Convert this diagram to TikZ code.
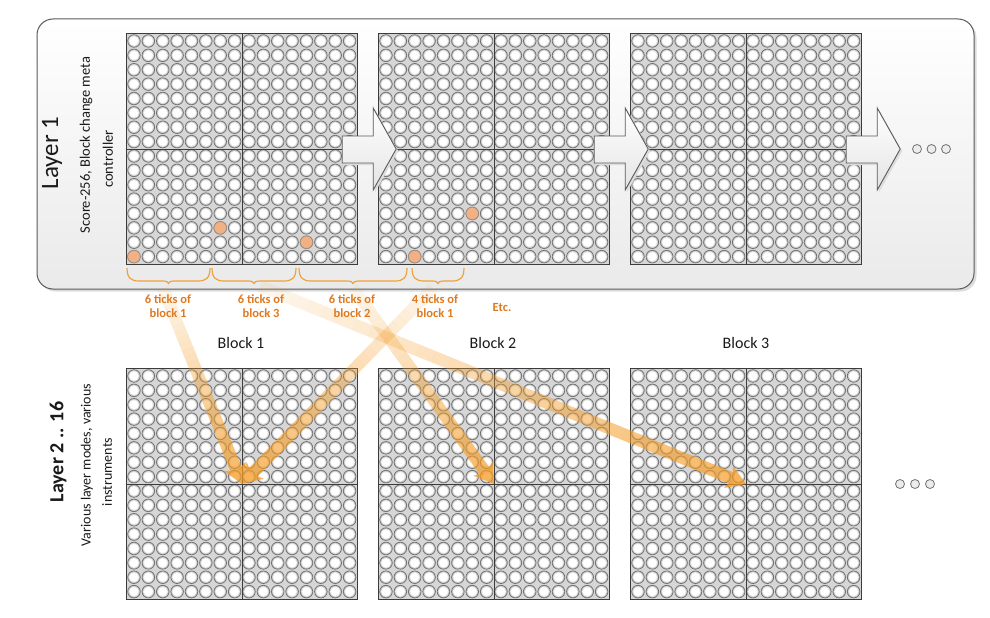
\documentclass[tikz,border=0pt]{standalone}
\usepackage{fontspec}
\setmainfont{Carlito}
\usetikzlibrary{calc}
\definecolor{gridbg}{HTML}{D6D6D6}
\definecolor{gridline}{HTML}{3C3C3C}
\definecolor{ringdark}{HTML}{727272}
\definecolor{ringmid}{HTML}{C6C6C6}
\definecolor{ringlight}{HTML}{EDEDED}
\definecolor{dotfill}{HTML}{F2B184}
\definecolor{dotline}{HTML}{9C8C82}
\definecolor{bracecol}{HTML}{F0A23A}
\definecolor{labelcol}{HTML}{E07A22}
\definecolor{bandcol}{HTML}{F59B23}
\definecolor{boxline}{HTML}{5A5A5A}
\definecolor{boxbottom}{HTML}{EAEAEA}
\definecolor{arrowbottom}{HTML}{E4E4E4}
\definecolor{txt}{HTML}{1A1A1A}
\definecolor{shadowcol}{HTML}{DCDCDC}
\definecolor{ellfill}{HTML}{ECECEC}

\tikzset{
  blockbox/.style={rectangle, minimum width=230pt, minimum height=230pt, inner sep=0pt, fill=gridbg, draw=none},
  ellipsisdot/.style={circle, draw=ringdark, fill=ellfill, line width=0.8pt, minimum size=9pt, inner sep=0pt},
  ticklabel/.style={text=labelcol, font=\bfseries\fontsize{12.5}{14.5}\selectfont, align=center, inner sep=0pt},
  blocklabel/.style={text=txt, font=\fontsize{16}{19}\selectfont, inner sep=0pt},
  sidetext/.style={text=txt, rotate=90, inner sep=0pt},
  bracepath/.style={draw=bracecol, line width=1.2pt},
}

\newcommand\cellgrid[1]{%
  \begin{scope}[shift={(#1.north west)}]
    \filldraw[fill=ringmid, draw=ringdark, line width=0.75pt]
      \foreach \r in {0,...,15}{\foreach \c in {0,...,15}{
        ({(\c+0.5)*14.375},{(\r+0.5)*14.375}) circle[radius=6.3pt]}};
    \fill[ringlight]
      \foreach \r in {0,...,15}{\foreach \c in {0,...,15}{
        ({(\c+0.5)*14.375},{(\r+0.5)*14.375}) circle[radius=5.2pt]}};
    \fill[white]
      \foreach \r in {0,...,15}{\foreach \c in {0,...,15}{
        ({(\c+0.5)*14.375},{(\r+0.5)*14.375}) circle[radius=4.3pt]}};
  \end{scope}}

\newcommand\celloutline[1]{%
  \draw[gridline, line width=1.2pt] (#1.north west) rectangle (#1.south east);
  \draw[gridline, line width=1pt] (#1.north) -- (#1.south) (#1.west) -- (#1.east);}

\newcommand\hitdot[3]{%
  \filldraw[fill=dotfill, draw=dotline, line width=0.7pt]
    ($(#1.north west)+({(#2+0.5)*14.375},{(#3+0.5)*14.375})$) circle[radius=6.3pt];}

\newcommand\blockarrow[1]{%
  \begin{scope}[shift={(#1.east)}]
    \fill[shadowcol] (-13,-11) -- (18,-11) -- (18,-39) -- (41,2) -- (18,43) -- (18,16) -- (-13,16) -- cycle;
    \path[draw=boxline, line width=0.9pt, top color=white, bottom color=arrowbottom]
      (-15,-13) -- (16,-13) -- (16,-41) -- (39,0) -- (16,41) -- (16,14) -- (-15,14) -- cycle;
  \end{scope}}

\newcommand\tickbrace[2]{%
  \pgfmathsetmacro\xm{(#1+#2)/2}%
  \draw[bracepath] (#1,268) .. controls (#1,278) and (#1+4,281) .. (#1+12,281)
    -- (\xm-6,281) .. controls (\xm-2,281) and (\xm,282) .. (\xm,283.5)
    .. controls (\xm,282) and (\xm+2,281) .. (\xm+6,281)
    -- (#2-12,281) .. controls (#2-4,281) and (#2,278) .. (#2,268);}

\newcommand\fadearrow[2]{%
  \coordinate (hm) at ($(#2)!14pt!(#1)$);
  \coordinate (hb) at ($(#2)!19pt!(#1)$);
  \foreach \i in {0,...,29}{%
    \pgfmathsetmacro\ta{\i/30}%
    \pgfmathsetmacro\tb{(\i+1)/30}%
    \pgfmathsetmacro\op{0.08+0.60*\i/29}%
    \draw[bandcol, line width=12pt, opacity=\op] ($(#1)!\ta!(hm)$) -- ($(#1)!\tb!(hm)$);
  }
  \fill[bandcol, opacity=0.75] (#2) -- ($(hb)!12pt!90:(#2)$) -- (hm) -- ($(hb)!12pt!-90:(#2)$) -- cycle;}

\begin{document}
\begin{tikzpicture}[x=1pt, y=-1pt]
\useasboundingbox (0,0) rectangle (990,618);
\fill[white] (0,0) rectangle (990,618);

% Layer 1 frame
\fill[shadowcol, rounded corners=16pt] (39.5,21.5) rectangle (976.5,291.5);
\node[draw=boxline, line width=1pt, rounded corners=16pt, top color=white, bottom color=boxbottom,
      minimum width=937pt, minimum height=270pt, inner sep=0pt] (L1) at (505.5,154) {};

% blocks
\node[blockbox] (t1) at (242,149) {};
\node[blockbox] (t2) at (494,149) {};
\node[blockbox] (t3) at (746,149) {};
\node[blockbox] (b1) at (242,484) {};
\node[blockbox] (b2) at (494,484) {};
\node[blockbox] (b3) at (746,484) {};

\cellgrid{t1}\cellgrid{t2}\cellgrid{t3}
\cellgrid{b1}\cellgrid{b2}\cellgrid{b3}

\hitdot{t1}{0}{15}
\hitdot{t1}{6}{13}
\hitdot{t1}{12}{14}
\hitdot{t2}{2}{15}
\hitdot{t2}{6}{12}

\celloutline{t1}\celloutline{t2}\celloutline{t3}
\celloutline{b1}\celloutline{b2}\celloutline{b3}

% block arrows
\blockarrow{t1}
\blockarrow{t2}
\blockarrow{t3}

% ellipses
\node[ellipsisdot] (e1) at (917,149) {};
\node[ellipsisdot] (e2) at (931.5,149) {};
\node[ellipsisdot] (e3) at (946,149) {};
\node[ellipsisdot] (f1) at (900,484) {};
\node[ellipsisdot] (f2) at (915,484) {};
\node[ellipsisdot] (f3) at (930,484) {};

% braces
\tickbrace{127}{210}
\tickbrace{212}{296}
\tickbrace{299}{407}
\tickbrace{412}{464}

% fading arrows
\coordinate (sA) at (163,288);
\coordinate (sB) at (433,288);
\coordinate (sC) at (353,288);
\coordinate (sD) at (260,286);
\fadearrow{sA}{b1.center}
\fadearrow{sB}{b1.center}
\fadearrow{sC}{b2.center}
\fadearrow{sD}{b3.center}

% tick labels
\node[ticklabel] (k1) at (168,306) {6 ticks of\\block 1};
\node[ticklabel] (k2) at (261,306) {6 ticks of\\block 3};
\node[ticklabel] (k3) at (352,306) {6 ticks of\\block 2};
\node[ticklabel] (k4) at (435,306) {4 ticks of\\block 1};
\node[ticklabel] (k5) at (502,307) {Etc.};

% block labels
\node[blocklabel] (n1) at (241,343) {Block 1};
\node[blocklabel] (n2) at (493,343) {Block 2};
\node[blocklabel] (n3) at (746,343) {Block 3};

% side texts
\node[sidetext, font=\fontsize{25}{30}\selectfont] (lay1) at (52,153) {Layer 1};
\node[sidetext, font=\fontsize{14.5}{17}\selectfont] (sub1a) at (86,145) {Score-256, Block change meta};
\node[sidetext, font=\fontsize{14.5}{17}\selectfont] (sub1b) at (108,159) {controller};
\node[sidetext, font=\bfseries\fontsize{20}{24}\selectfont] (lay2) at (58,452) {Layer 2 .. 16};
\node[sidetext, font=\fontsize{14}{17}\selectfont] (sub2a) at (87,465) {Various layer modes, various};
\node[sidetext, font=\fontsize{14}{17}\selectfont] (sub2b) at (107,472) {instruments};
\end{tikzpicture}
\end{document}
